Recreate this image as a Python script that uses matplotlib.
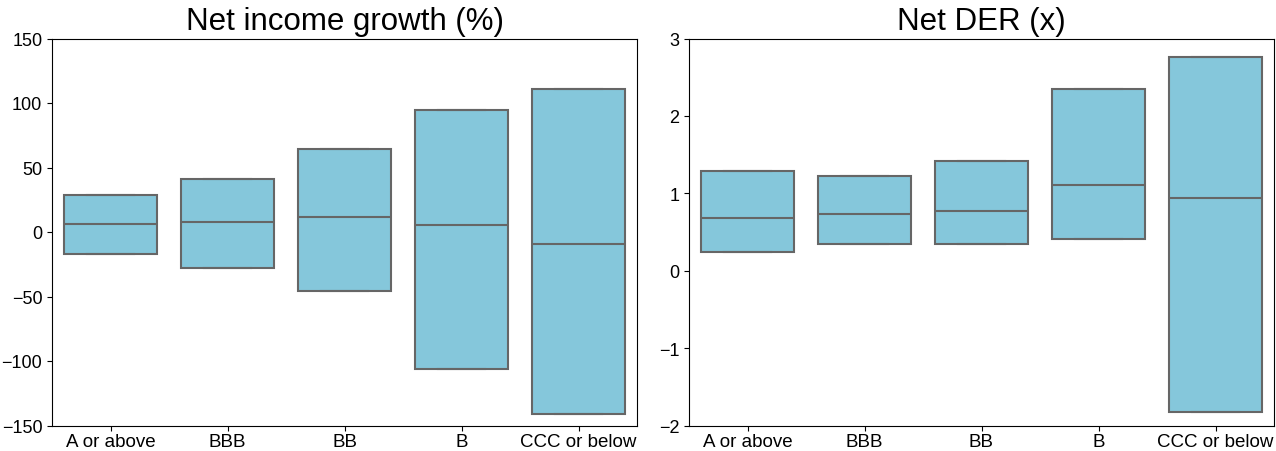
import matplotlib.pyplot as plt

plt.rcParams['font.family'] = ['Liberation Sans', 'DejaVu Sans']

ratings = ["A or above", "BBB", "BB", "B", "CCC or below"]

# Net income growth (%): quartiles per rating bucket
ni_q1 = [-17.3, -27.7, -45.8, -106.3, -140.9]
ni_med = [6.5, 7.8, 11.4, 5.4, -9.3]
ni_q3 = [28.5, 40.9, 64.7, 94.4, 110.7]

# Net DER (x): quartiles per rating bucket
der_q1 = [0.237, 0.34, 0.349, 0.409, -1.823]
der_med = [0.685, 0.728, 0.767, 1.103, 0.944]
der_q3 = [1.284, 1.22, 1.418, 2.349, 2.759]

FILL = "#85C7DB"
EDGE = "#666666"


def draw(ax, q1, med, q3, title, ylim):
    stats = [dict(q1=a, med=m, q3=b, whislo=a, whishi=b, fliers=[])
             for a, m, b in zip(q1, med, q3)]
    ax.bxp(stats, positions=range(len(stats)), widths=0.8, patch_artist=True,
           showfliers=False,
           boxprops=dict(facecolor=FILL, edgecolor=EDGE, linewidth=1.5),
           medianprops=dict(color=EDGE, linewidth=1.5),
           whiskerprops=dict(color=EDGE, linewidth=1.5),
           capprops=dict(color=EDGE, linewidth=1.5),
           capwidths=0.4)
    ax.set_xlim(-0.5, len(stats) - 0.5)
    ax.set_ylim(*ylim)
    ax.set_xticks(range(len(stats)))
    ax.set_xticklabels(ratings, fontsize=13.5)
    ax.tick_params(axis="y", labelsize=13)
    ax.tick_params(axis="x", pad=2)
    ax.set_title(title, fontsize=22.5, pad=7)


fig = plt.figure(figsize=(12.76, 4.52), dpi=100)
ax1 = fig.add_axes([52 / 1276, 25.5 / 452, 585 / 1276, 387 / 452])
ax2 = fig.add_axes([689 / 1276, 25.5 / 452, 585 / 1276, 387 / 452])

draw(ax1, ni_q1, ni_med, ni_q3, "Net income growth (%)", (-150, 150))
draw(ax2, der_q1, der_med, der_q3, "Net DER (x)", (-2, 3))

fig.savefig("out.png", dpi=100)
